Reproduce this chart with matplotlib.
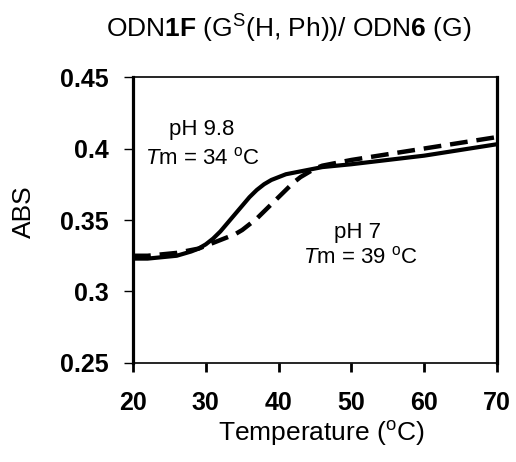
import matplotlib
matplotlib.use("Agg")
import matplotlib.pyplot as plt

plt.rcParams['font.family'] = ['Liberation Sans', 'DejaVu Sans']
plt.rcParams['mathtext.fontset'] = 'custom'
plt.rcParams['mathtext.rm'] = 'Liberation Sans'
plt.rcParams['mathtext.it'] = 'Liberation Sans:italic'
plt.rcParams['mathtext.bf'] = 'Liberation Sans:bold'

# Temperatures (°C)
temp = [20, 22, 24, 26, 28, 29, 30, 31, 32, 33, 34, 35, 36, 37, 38, 39, 40,
        41, 42, 43, 44, 45, 46, 48, 50, 55, 60, 65, 70]
# pH 9.8 (solid), Tm = 34 °C
abs_ph98 = [0.323, 0.323, 0.324, 0.325, 0.328, 0.330, 0.333, 0.337, 0.342,
            0.348, 0.354, 0.360, 0.366, 0.371, 0.375, 0.378, 0.380, 0.382,
            0.383, 0.384, 0.385, 0.386, 0.387, 0.388, 0.389, 0.392, 0.395,
            0.399, 0.403]
# pH 7 (dashed), Tm = 39 °C
abs_ph7 = [0.325, 0.325, 0.326, 0.327, 0.329, 0.330, 0.332, 0.334, 0.336,
           0.338, 0.340, 0.343, 0.347, 0.351, 0.356, 0.361, 0.366, 0.371,
           0.376, 0.380, 0.383, 0.386, 0.388, 0.390, 0.392, 0.396, 0.400,
           0.404, 0.408]

xticks = [20, 30, 40, 50, 60, 70]
yticks = [0.25, 0.30, 0.35, 0.40, 0.45]
ytick_labels = ["0.25", "0.3", "0.35", "0.4", "0.45"]

fig = plt.figure(figsize=(5.16, 4.62), dpi=100)
ax = fig.add_axes([0.2578, 0.2143, 0.7054, 0.619])

ax.plot(temp, abs_ph98, color='black', lw=3.0, solid_capstyle='round')
ax.plot(temp, abs_ph7, color='black', lw=3.2, dashes=[4.0, 2.0])

ax.set_xlim(20, 70)
ax.set_ylim(0.25, 0.45)
ax.set_xticks(xticks)
ax.set_xticklabels([str(v) for v in xticks], fontsize=18, fontweight='bold')
ax.set_yticks(yticks)
ax.set_yticklabels(ytick_labels, fontsize=18, fontweight='bold')

for side in ['left', 'right']:
    ax.spines[side].set_linewidth(2.3)
for side in ['top', 'bottom']:
    ax.spines[side].set_linewidth(1.2)

ax.tick_params(axis='y', direction='out', length=6.5, width=1.0, pad=11)
ax.tick_params(axis='x', direction='out', length=6.5, width=2.0, pad=14)

ax.set_xlabel(r"Temperature ($^{\mathrm{o}}$C)", fontsize=19)
ax.set_ylabel("ABS", fontsize=19)
ax.xaxis.set_label_coords(0.518, -0.195)
ax.yaxis.set_label_coords(-0.30, 0.528)
ax.yaxis.label.set_verticalalignment('center')

fig.text(0.559, 0.937, r"ODN$\mathbf{1F}$ (G$^{\mathrm{S}}$(H, Ph))/ ODN$\mathbf{6}$ (G)",
         fontsize=19, ha='center', va='center')

ax.text(29.5, 0.413, "pH 9.8", fontsize=16, ha='center', va='center')
ax.text(29.6, 0.393, r"$\mathit{T}$m = 34 $^{\mathrm{o}}$C", fontsize=16, ha='center', va='center')
ax.text(50.8, 0.341, "pH 7", fontsize=16, ha='center', va='center')
ax.text(51.2, 0.324, r"$\mathit{T}$m = 39 $^{\mathrm{o}}$C", fontsize=16, ha='center', va='center')

fig.savefig("out.png", dpi=100)
